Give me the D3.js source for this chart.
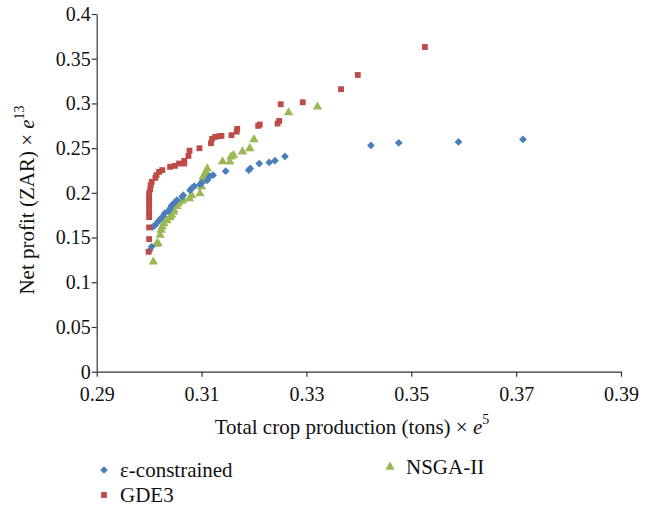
<!DOCTYPE html>
<html><head><meta charset="utf-8">
<script src="https://cdn.jsdelivr.net/npm/d3@7"></script>
<style>body{margin:0;background:#fff}svg{display:block}text{font-family:"Liberation Serif","DejaVu Serif",serif;fill:#111}</style>
</head><body><svg id="c" width="650" height="509"></svg>
<script>
const xTicks=[0.29,0.31,0.33,0.35,0.37,0.39];
const xTickLabels=["0.29","0.31","0.33","0.35","0.37","0.39"];
const yTicks=[0,0.05,0.1,0.15,0.2,0.25,0.3,0.35,0.4];
const yTickLabels=["0","0.05","0.1","0.15","0.2","0.25","0.3","0.35","0.4"];
const seriesNames=["ε-constrained","GDE3","NSGA-II"];
const epsX=[0.3713,0.3590,0.3476,0.3423,0.3259,0.3240,0.3229,0.3210,0.3193,0.3190,0.3146,0.3122,0.3116,0.3111,0.3100,0.3097,0.3086,0.3082,0.3078,0.3065,0.3063,0.3053,0.3047,0.3043,0.3040,0.3037,0.3030,0.3026,0.3021,0.3017,0.3011,0.3007,0.3005,0.3001];
const epsY=[0.2597,0.2570,0.2559,0.2530,0.2407,0.2360,0.2340,0.2328,0.2273,0.2254,0.2242,0.2198,0.2187,0.2142,0.2111,0.2094,0.2075,0.2056,0.2030,0.1974,0.1955,0.1918,0.1885,0.1859,0.1826,0.1796,0.1773,0.1736,0.1706,0.1678,0.1636,0.1620,0.1399,0.1354];
const gdeX=[0.3526,0.3398,0.3366,0.3293,0.3251,0.3248,0.3245,0.3211,0.3208,0.3168,0.3167,0.3157,0.3138,0.3134,0.3126,0.3120,0.3118,0.3096,0.3077,0.3075,0.3067,0.3067,0.3057,0.3049,0.3040,0.3025,0.3019,0.3014,0.3012,0.3005,0.3003,0.3002,0.3000,0.3000,0.3000,0.3000,0.3000,0.3000,0.3000,0.3000,0.3000,0.2999];
const gdeY=[0.3631,0.3318,0.3159,0.3013,0.2991,0.2804,0.2775,0.2764,0.2749,0.2715,0.2684,0.2645,0.2637,0.2634,0.2626,0.2603,0.2555,0.2499,0.2472,0.2413,0.2358,0.2328,0.2328,0.2302,0.2291,0.2254,0.2235,0.2198,0.2168,0.2123,0.2086,0.2038,0.1997,0.1952,0.1907,0.1863,0.1818,0.1773,0.1728,0.1613,0.1483,0.1341];
const nsgX=[0.3321,0.3266,0.3200,0.3192,0.3178,0.3161,0.3156,0.3154,0.3140,0.3111,0.3108,0.3107,0.3103,0.3101,0.3100,0.3097,0.3081,0.3077,0.3065,0.3062,0.3056,0.3053,0.3047,0.3046,0.3043,0.3040,0.3034,0.3028,0.3025,0.3023,0.3021,0.3017,0.3014,0.3008];
const nsgY=[0.2961,0.2898,0.2597,0.2496,0.2460,0.2421,0.2402,0.2346,0.2349,0.2270,0.2231,0.2198,0.2179,0.2131,0.2067,0.1991,0.1974,0.1937,0.1924,0.1907,0.1882,0.1851,0.1807,0.1784,0.1751,0.1723,0.1689,0.1658,0.1620,0.1583,0.1527,0.1435,0.1427,0.1229];

const svg=d3.select("#c");
const x=d3.scaleLinear().domain([0.29,0.39]).range([96.7,621]);
const y=d3.scaleLinear().domain([0,0.4]).range([371.7,14]);
const axisColor="#333";
const fam="Liberation Serif, DejaVu Serif, serif";

const xa=svg.append("g").attr("transform",`translate(0,${y(0)})`)
  .call(d3.axisBottom(x).tickValues(xTicks).tickFormat((d,i)=>xTickLabels[i]).tickSize(5).tickSizeOuter(0));
const ya=svg.append("g").attr("transform",`translate(${x(0.29)},0)`)
  .call(d3.axisLeft(y).tickValues(yTicks).tickFormat((d,i)=>yTickLabels[i]).tickSize(5).tickSizeOuter(0));
[xa,ya].forEach(a=>{a.attr("font-family",fam);a.selectAll("path,line").attr("stroke",axisColor).attr("stroke-width",1.2);
  a.selectAll("text").attr("font-size",20).attr("fill","#111");});
xa.selectAll("text").attr("dy","1.07em");
ya.selectAll("text").attr("x",-6);

const colors=["#4a7ebb","#be4b48","#98b954"];
const sym=[d3.symbolSquare,d3.symbolSquare,d3.symbolTriangle];
const sizes=[30,34,38];
const rot=["rotate(45)","",""];
const series=[[epsX,epsY],[gdeX,gdeY],[nsgX,nsgY]];
[2,0,1].forEach(s=>{
  const [xs,ys]=series[s];
  svg.append("g").selectAll("path").data(xs.map((v,i)=>[v,ys[i]])).join("path")
    .attr("d",d3.symbol().type(sym[s]).size(sizes[s]))
    .attr("transform",d=>`translate(${x(d[0])},${y(d[1])}) ${rot[s]}`)
    .attr("fill",colors[s]);
});

// axis titles
const xt=svg.append("text").attr("x",352).attr("y",434).attr("text-anchor","middle").attr("font-size",21);
xt.append("tspan").text("Total crop production (tons) × ");
xt.append("tspan").attr("font-style","italic").text("e");
xt.append("tspan").attr("font-size",14).attr("dy",-10).text("5");

const yt=svg.append("text").attr("transform",`translate(34,200) rotate(-90)`).attr("text-anchor","middle").attr("font-size",21);
yt.append("tspan").text("Net profit (ZAR) × ");
yt.append("tspan").attr("font-style","italic").text("e");
yt.append("tspan").attr("font-size",14).attr("dy",-10).text("13");

// legend
const leg=[{s:0,x:104,y:470},{s:1,x:104,y:495},{s:2,x:390,y:467}];
leg.forEach(l=>{
  svg.append("path").attr("d",d3.symbol().type(sym[l.s]).size(sizes[l.s]))
    .attr("transform",`translate(${l.x},${l.y}) ${rot[l.s]}`).attr("fill",colors[l.s]);
  svg.append("text").attr("x",l.x+16).attr("y",l.y+7).attr("font-size",21).text(seriesNames[l.s]);
});
</script></body></html>
